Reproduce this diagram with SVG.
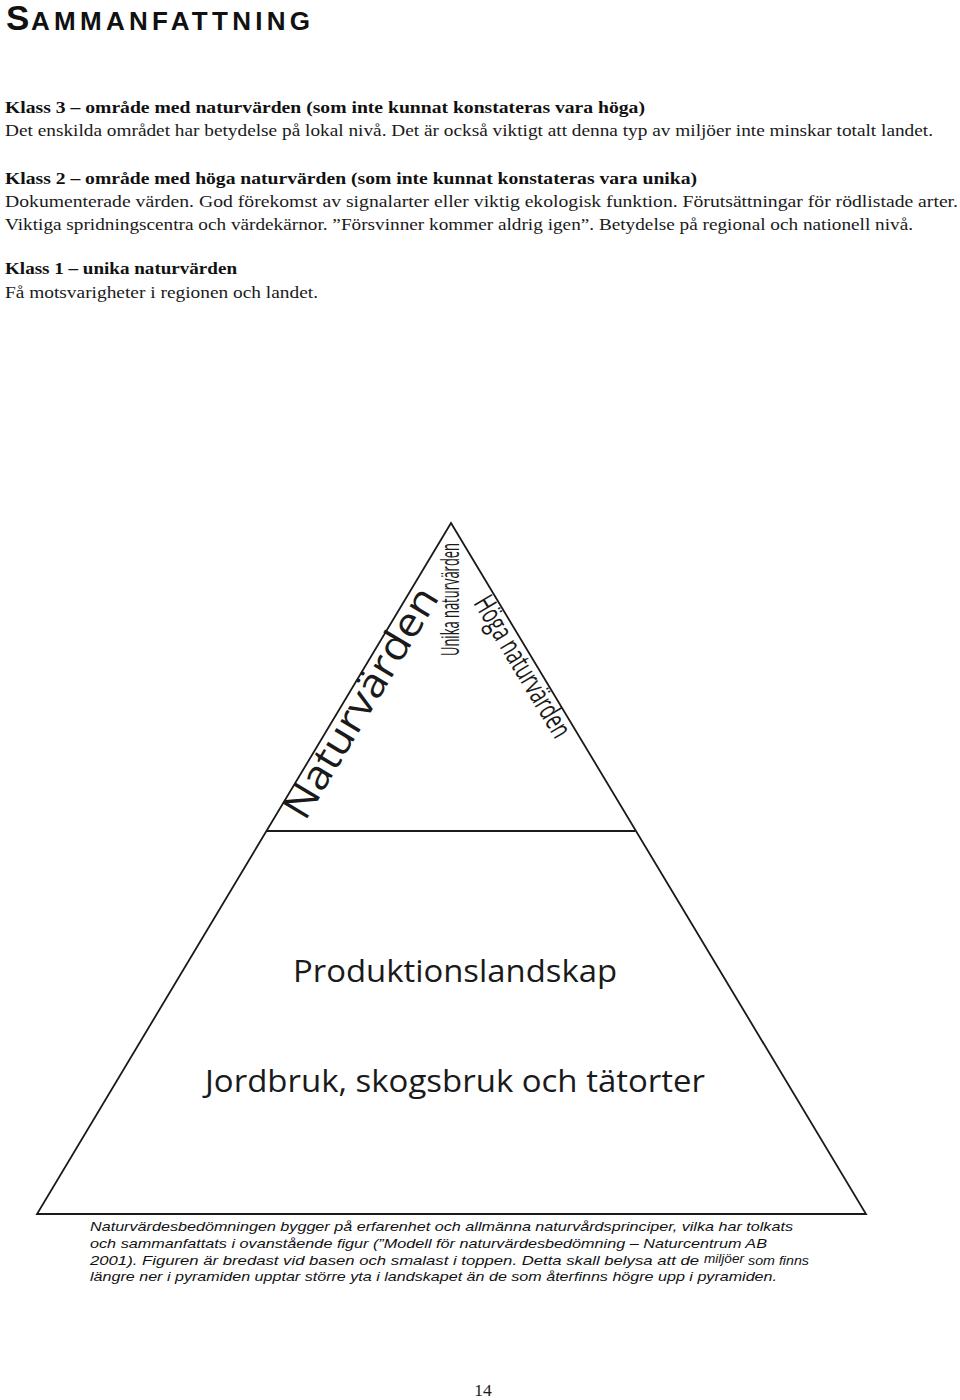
<svg xmlns="http://www.w3.org/2000/svg" width="960" height="1400" viewBox="0 0 960 1400">
<style>
.serif{font-family:"Liberation Serif","Times New Roman",serif;font-size:17.5px;fill:#1a1a1a}
.klass{font-family:"Liberation Serif","Times New Roman",serif;font-size:17.5px;font-weight:bold;fill:#111}
.title{font-family:"Liberation Sans",Arial,sans-serif;font-weight:bold;fill:#111}
.pyr{font-family:"Open Sans","Noto Sans",sans-serif;fill:#1a1a1a}
.cap{font-family:"Liberation Sans",Arial,sans-serif;font-style:italic;font-size:13.5px;fill:#111}
.edge{fill:none;stroke:#1a1a1a;stroke-width:1.8;stroke-linejoin:miter}
</style>
<rect width="960" height="1400" fill="#fff"/>
<g id="title">
<text class="title" x="6" y="30" font-size="35">S</text>
<text class="title" x="31" y="30" font-size="26" textLength="279" lengthAdjust="spacing">AMMANFATTNING</text>
</g>
<g id="klass3">
<text class="klass" x="5" y="113" textLength="640" lengthAdjust="spacingAndGlyphs">Klass 3 – område med naturvärden (som inte kunnat konstateras vara höga)</text>
<text class="serif" x="5" y="136" textLength="928" lengthAdjust="spacingAndGlyphs">Det enskilda området har betydelse på lokal nivå. Det är också viktigt att denna typ av miljöer inte minskar totalt landet.</text>
</g>
<g id="klass2">
<text class="klass" x="5" y="184" textLength="692" lengthAdjust="spacingAndGlyphs">Klass 2 – område med höga naturvärden (som inte kunnat konstateras vara unika)</text>
<text class="serif" x="5" y="207" textLength="953" lengthAdjust="spacingAndGlyphs">Dokumenterade värden. God förekomst av signalarter eller viktig ekologisk funktion. Förutsättningar för rödlistade arter.</text>
<text class="serif" x="5" y="230" textLength="908" lengthAdjust="spacingAndGlyphs">Viktiga spridningscentra och värdekärnor. ”Försvinner kommer aldrig igen”. Betydelse på regional och nationell nivå.</text>
</g>
<g id="klass1">
<text class="klass" x="5" y="274" textLength="232" lengthAdjust="spacingAndGlyphs">Klass 1 – unika naturvärden</text>
<text class="serif" x="5" y="298" textLength="313" lengthAdjust="spacingAndGlyphs">Få motsvarigheter i regionen och landet.</text>
</g>
<g id="pyramid">
<polygon class="edge" points="451,523 866,1214 37,1214"/>
<line class="edge" x1="266.5" y1="831" x2="635.5" y2="831"/>
</g>
<g id="labels">
<text class="pyr" transform="translate(305,822) rotate(-59)" font-size="40" textLength="262" lengthAdjust="spacingAndGlyphs">Naturvärden</text>
<text class="pyr" transform="translate(459,656) rotate(-90)" font-size="25" textLength="113" lengthAdjust="spacingAndGlyphs">Unika naturvärden</text>
<text class="pyr" transform="translate(473,603) rotate(59)" font-size="29" textLength="160" lengthAdjust="spacingAndGlyphs">Höga naturvärden</text>
<text class="pyr" x="293" y="982" font-size="31" textLength="324" lengthAdjust="spacingAndGlyphs">Produktionslandskap</text>
<text class="pyr" x="205" y="1092" font-size="31" textLength="500" lengthAdjust="spacingAndGlyphs">Jordbruk, skogsbruk och tätorter</text>
</g>
<g id="caption">
<text class="cap" x="90" y="1231" textLength="703" lengthAdjust="spacingAndGlyphs">Naturvärdesbedömningen bygger på erfarenhet och allmänna naturvårdsprinciper, vilka har tolkats</text>
<text class="cap" x="90" y="1248" textLength="677" lengthAdjust="spacingAndGlyphs">och sammanfattats i ovanstående figur (”Modell för naturvärdesbedömning – Naturcentrum AB</text>
<text class="cap" x="90" y="1265" textLength="609" lengthAdjust="spacingAndGlyphs">2001). Figuren är bredast vid basen och smalast i toppen. Detta skall belysa att de</text>
<text class="cap" x="704" y="1263" font-style="normal" textLength="40" lengthAdjust="spacingAndGlyphs">miljöer</text>
<text class="cap" x="748" y="1265" textLength="61" lengthAdjust="spacingAndGlyphs">som finns</text>
<text class="cap" x="90" y="1281" textLength="687" lengthAdjust="spacingAndGlyphs">längre ner i pyramiden upptar större yta i landskapet än de som återfinns högre upp i pyramiden.</text>
</g>
<g id="page">
<text class="serif" x="483" y="1396" font-size="19" text-anchor="middle">14</text>
</g>
</svg>
